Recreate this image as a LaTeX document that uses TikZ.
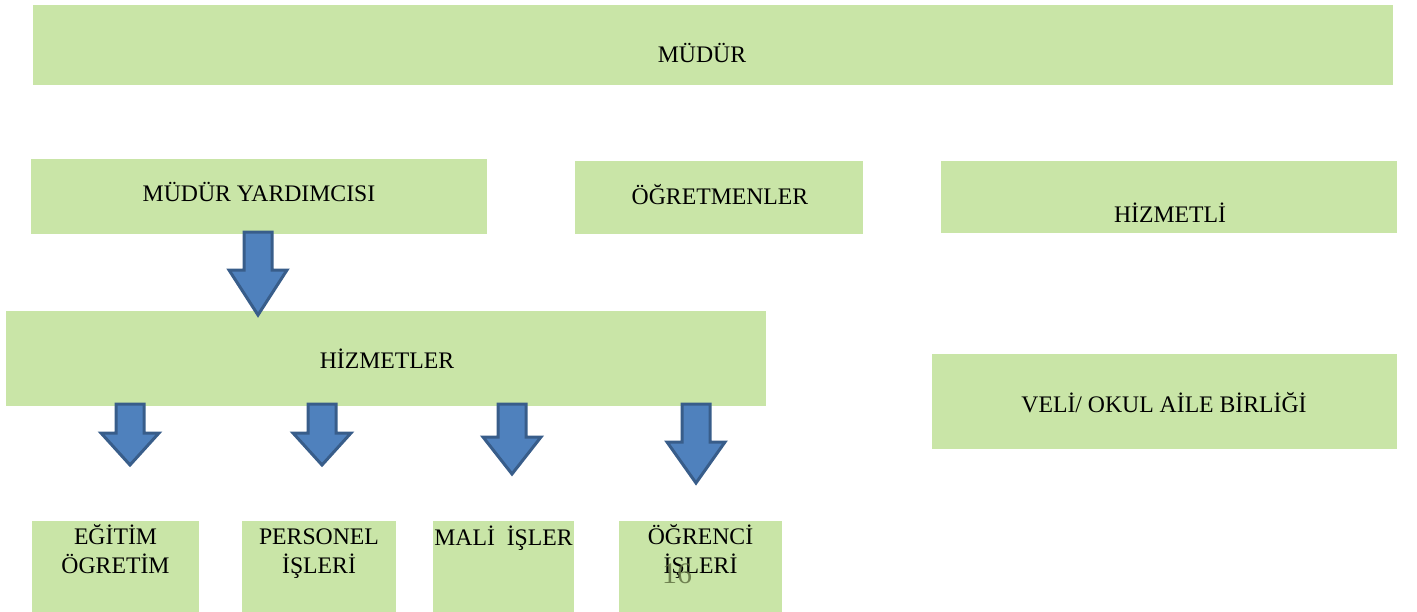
\documentclass[tikz,border=0pt]{standalone}
\usepackage{fontspec}
\setmainfont{Liberation Serif}
\usetikzlibrary{calc}

\definecolor{kutuyesil}{RGB}{201,229,167}
\definecolor{okmavi}{RGB}{79,129,189}
\definecolor{okcerceve}{RGB}{56,93,138}
\definecolor{sayfano}{RGB}{96,112,66}

\begin{document}
\begin{tikzpicture}[x=0.02cm, y=-0.02cm, outer sep=0pt]
          \newcommand{\px}{0.02cm}
          \newcommand{\yazifont}{\fontsize{13.5}{16}\selectfont}
          
          \tikzstyle{kutu}=[
            rectangle,
            fill=kutuyesil,
            draw=none,
            inner sep=0pt,
            anchor=north west
          ]
          \tikzstyle{yazi}=[
            inner sep=0pt,
            anchor=base,
            align=center,
            font=\yazifont
          ]
          \tikzstyle{blok}=[
            fill=okmavi,
            draw=okcerceve,
            line width=3*\px
          ]
          % down block arrow: tip x, top y, head y, tip y
          \newcommand{\asagiok}[4]{%
            \draw[blok] (#1-14,#2) -- (#1+14,#2) -- (#1+14,#3) -- (#1+29,#3)
              -- (#1,#4) -- (#1-29,#3) -- (#1-14,#3) -- cycle;}
          
          \useasboundingbox (0,0) rectangle (1417,612);
          
          % top row
          \node[kutu, minimum width=1360*\px, minimum height=80*\px] (mudur) at (33,5) {};
          \node[yazi] (mudur-y) at (702,62) {MÜDÜR};
          
          % second row
          \node[kutu, minimum width=456*\px, minimum height=75*\px] (yardimci) at (31,159) {};
          \node[yazi] (yardimci-y) at (259,201) {MÜDÜR YARDIMCISI};
          \node[kutu, minimum width=288*\px, minimum height=73*\px] (ogretmen) at (575,161) {};
          \node[yazi] (ogretmen-y) at (720,204) {ÖĞRETMENLER};
          \node[kutu, minimum width=456*\px, minimum height=72*\px] (hizmetli) at (941,161) {};
          \node[yazi] (hizmetli-y) at (1170,222) {HİZMETLİ};
          
          % third row
          \node[kutu, minimum width=760*\px, minimum height=95*\px] (hizmetler) at (6,311) {};
          \node[yazi] (hizmetler-y) at (387,368) {HİZMETLER};
          \node[kutu, minimum width=465*\px, minimum height=95*\px] (veli) at (932,354) {};
          \node[yazi] (veli-y) at (1164,412) {VELİ/ OKUL AİLE BİRLİĞİ};
          
          % bottom row
          \node[kutu, minimum width=167*\px, minimum height=91*\px] (egitim) at (32,521) {};
          \node[yazi] (egitim-y) at (115.5,573) {EĞİTİM\\ÖGRETİM};
          \node[kutu, minimum width=154*\px, minimum height=91*\px] (personel) at (242,521) {};
          \node[yazi] (personel-y) at (319,573) {PERSONEL\\İŞLERİ};
          \node[kutu, minimum width=141*\px, minimum height=91*\px] (mali) at (433,521) {};
          \node[yazi] (mali-y) at (503.5,545) {MALİ~ İŞLER};
          \node[kutu, minimum width=163*\px, minimum height=91*\px] (ogrenci) at (619,521) {};
          \node[yazi] (ogrenci-y) at (700.5,573) {ÖĞRENCİ\\İŞLERİ};
          
          % page number
          \node[yazi, font=\fontsize{17}{20}\selectfont, text=sayfano, opacity=0.85] (sayfa) at (677,583) {16};
          
          % block arrows
          \asagiok{258}{232}{270}{315}
          \asagiok{130}{404}{433}{465}
          \asagiok{322}{404}{433}{465}
          \asagiok{512}{404}{437}{474}
          \asagiok{696}{404}{442}{483}
          
        \end{tikzpicture}
\end{document}
